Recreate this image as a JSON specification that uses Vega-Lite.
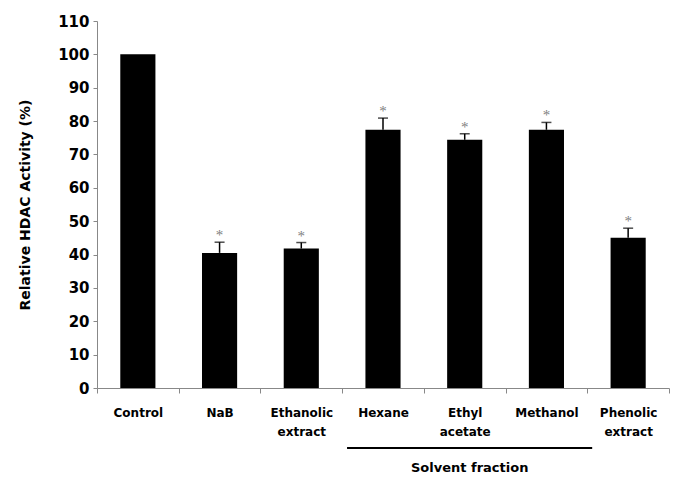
{
  "$schema": "https://vega.github.io/schema/vega-lite/v6.json",
  "width": 572,
  "height": 367,
  "autosize": {"type": "none"},
  "padding": {"left": 97, "top": 21, "right": 16, "bottom": 99},
  "config": {
    "view": {"stroke": null},
    "font": "DejaVu Sans",
    "axisX": {
      "labelAngle": 0, "labelFontWeight": "bold", "labelFontSize": 12, "labelColor": "black",
      "labelPadding": 14, "labelLineHeight": 19, "labelOverlap": false,
      "tickBand": "extent", "tickColor": "#888", "domainColor": "#888", "tickSize": 5
    },
    "axisY": {
      "grid": false, "labelFontWeight": "bold", "labelFontSize": 15, "labelColor": "black", "labelOverlap": false,
      "domainColor": "#888", "tickColor": "#888", "tickSize": 4, "labelPadding": 4,
      "titleFontSize": 14, "titleFontWeight": "bold", "titleColor": "black", "titlePadding": 25
    }
  },
  "datasets": {
    "bars": [
      {"label": "Control", "value": 100, "err": null},
      {"label": "NaB", "value": 40.5, "err": 43.7},
      {"label": "Ethanolic extract", "value": 41.8, "err": 43.6},
      {"label": "Hexane", "value": 77.4, "err": 80.9},
      {"label": "Ethyl acetate", "value": 74.4, "err": 76.2},
      {"label": "Methanol", "value": 77.4, "err": 79.6},
      {"label": "Phenolic extract", "value": 45.0, "err": 47.9}
    ],
    "group": [
      {"start": "Hexane", "end": "Methanol", "mid": "Ethyl acetate", "name": "Solvent fraction", "ly": -18, "ty": -24}
    ]
  },
  "layer": [
    {
      "data": {"name": "bars"},
      "mark": {"type": "bar", "color": "black", "width": {"band": 0.43}},
      "encoding": {
        "x": {
          "field": "label", "type": "nominal", "title": null,
          "scale": {"domain": ["Control", "NaB", "Ethanolic extract", "Hexane", "Ethyl acetate", "Methanol", "Phenolic extract"], "paddingInner": 0, "paddingOuter": 0},
          "axis": {"labelExpr": "split(datum.label, ' ')"}
        },
        "y": {
          "field": "value", "type": "quantitative", "title": "Relative HDAC Activity (%)",
          "scale": {"domain": [0, 110], "nice": false},
          "axis": {"values": [0, 10, 20, 30, 40, 50, 60, 70, 80, 90, 100, 110]}
        }
      }
    },
    {
      "data": {"name": "bars"},
      "transform": [{"filter": "datum.err != null"}],
      "mark": {"type": "rule", "color": "black", "strokeWidth": 1.5},
      "encoding": {
        "x": {"field": "label", "type": "nominal", "title": null, "axis": {"labelExpr": "split(datum.label, ' ')"}},
        "y": {"field": "value", "type": "quantitative", "title": "Relative HDAC Activity (%)", "axis": {"values": [0, 10, 20, 30, 40, 50, 60, 70, 80, 90, 100, 110]}},
        "y2": {"field": "err"}
      }
    },
    {
      "data": {"name": "bars"},
      "transform": [{"filter": "datum.err != null"}],
      "mark": {"type": "tick", "color": "black", "size": 10, "thickness": 1.5},
      "encoding": {
        "x": {"field": "label", "type": "nominal", "title": null, "axis": {"labelExpr": "split(datum.label, ' ')"}},
        "y": {"field": "err", "type": "quantitative", "title": "Relative HDAC Activity (%)", "axis": {"values": [0, 10, 20, 30, 40, 50, 60, 70, 80, 90, 100, 110]}}
      }
    },
    {
      "data": {"name": "bars"},
      "transform": [{"filter": "datum.err != null"}],
      "mark": {"type": "text", "text": "*", "color": "#808080", "font": "Liberation Serif", "fontSize": 15, "baseline": "middle", "dy": -7},
      "encoding": {
        "x": {"field": "label", "type": "nominal", "title": null, "axis": {"labelExpr": "split(datum.label, ' ')"}},
        "y": {"field": "err", "type": "quantitative", "title": "Relative HDAC Activity (%)", "axis": {"values": [0, 10, 20, 30, 40, 50, 60, 70, 80, 90, 100, 110]}}
      }
    },
    {
      "data": {"name": "group"},
      "mark": {"type": "rule", "color": "black", "strokeWidth": 2, "clip": false},
      "encoding": {
        "x": {"field": "start", "type": "nominal", "bandPosition": 0.06, "title": null, "axis": {"labelExpr": "split(datum.label, ' ')"}},
        "x2": {"field": "end", "bandPosition": 1.06},
        "y": {"field": "ly", "type": "quantitative", "title": "Relative HDAC Activity (%)", "axis": {"values": [0, 10, 20, 30, 40, 50, 60, 70, 80, 90, 100, 110]}}
      }
    },
    {
      "data": {"name": "group"},
      "mark": {"type": "text", "fontWeight": "bold", "fontSize": 13, "color": "black", "baseline": "middle", "clip": false, "dx": 5},
      "encoding": {
        "x": {"field": "mid", "type": "nominal", "title": null, "axis": {"labelExpr": "split(datum.label, ' ')"}},
        "y": {"field": "ty", "type": "quantitative", "title": "Relative HDAC Activity (%)", "axis": {"values": [0, 10, 20, 30, 40, 50, 60, 70, 80, 90, 100, 110]}},
        "text": {"field": "name"}
      }
    }
  ]
}
